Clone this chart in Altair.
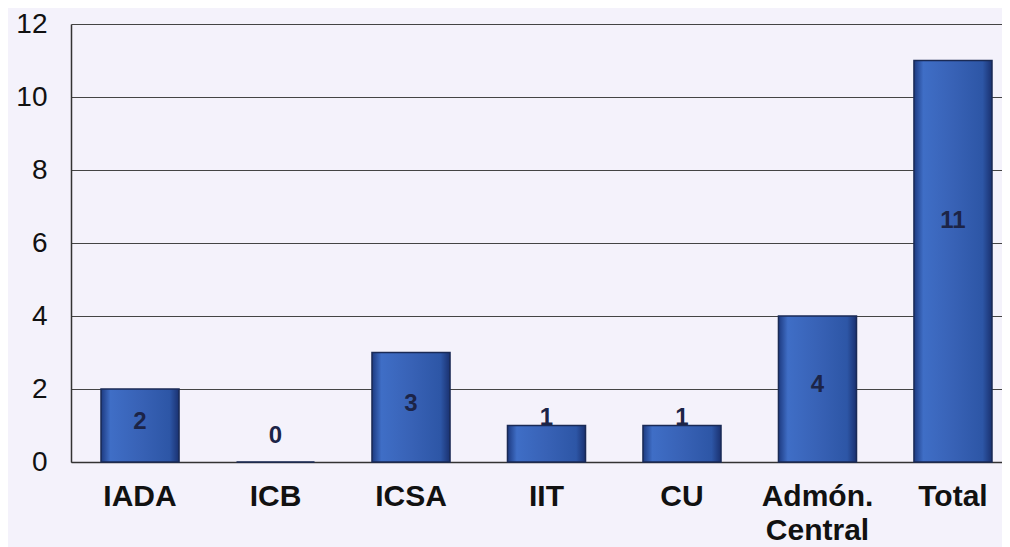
import altair as alt
import pandas as pd

categories = ["IADA", "ICB", "ICSA", "IIT", "CU", "Admón. Central", "Total"]
values = [2, 0, 3, 1, 1, 4, 11]
y_ticks = [0, 2, 4, 6, 8, 10, 12]

df = pd.DataFrame({"cat": categories, "val": values})

FONT = "Liberation Sans"

x_enc = alt.X(
    "cat:N",
    sort=categories,
    title=None,
    scale=alt.Scale(paddingInner=0.424, paddingOuter=0.1476, align=0.75),
    axis=alt.Axis(
        labelAngle=0,
        labelFont=FONT,
        labelFontSize=30,
        labelFontWeight="bold",
        labelColor="#111111",
        labelPadding=19,
        labelLineHeight=34,
        labelExpr="datum.label == 'Admón. Central' ? ['Admón.', 'Central'] : datum.label",
        ticks=False,
        domain=True,
        domainColor="#333333",
        domainWidth=1.5,
        grid=False,
    ),
)

y_scale = alt.Scale(domain=[0, 12], nice=False)

bars = alt.Chart(df).mark_bar(
    stroke="#1a2a55",
    strokeWidth=1.5,
    color=alt.Gradient(
        gradient="linear",
        x1=0, x2=1, y1=0, y2=0,
        stops=[
            alt.GradientStop(color="#1d3a80", offset=0),
            alt.GradientStop(color="#3f6ec6", offset=0.12),
            alt.GradientStop(color="#3862b6", offset=0.5),
            alt.GradientStop(color="#2d56a6", offset=0.88),
            alt.GradientStop(color="#1a3170", offset=1),
        ],
    ),
).encode(
    x=x_enc,
    y=alt.Y(
        "val:Q",
        scale=y_scale,
        title=None,
        axis=alt.Axis(
            values=y_ticks,
            labelFont=FONT,
            labelFontSize=28,
            labelColor="#111111",
            labelPadding=24,
            ticks=False,
            domain=True,
            domainColor="#333333",
            domainWidth=1.5,
            grid=True,
            gridColor="#444444",
            gridWidth=1,
        ),
    ),
)

labels = alt.Chart(df).transform_calculate(
    pos="datum.val < 2 ? 0.7 + 0.5 * datum.val : (datum.val > 6 ? datum.val * 0.6 : datum.val / 2 + 0.1)"
).mark_text(
    font=FONT,
    fontSize=24,
    fontWeight="bold",
    color="#1c2447",
    baseline="middle",
    align="center",
).encode(
    x=alt.X("cat:N", sort=categories),
    y=alt.Y("pos:Q", scale=y_scale),
    text=alt.Text("val:Q"),
)

chart = (
    alt.layer(bars, labels)
    .properties(
        width=931,
        height=438,
        background="#f4f2fb",
        padding={"left": 63, "top": 16, "right": 0, "bottom": 85},
        autosize=alt.AutoSizeParams(type="none"),
    )
    .configure_view(stroke=None)
)

chart.save("out.html", embed_options={"renderer": "svg", "actions": False})
